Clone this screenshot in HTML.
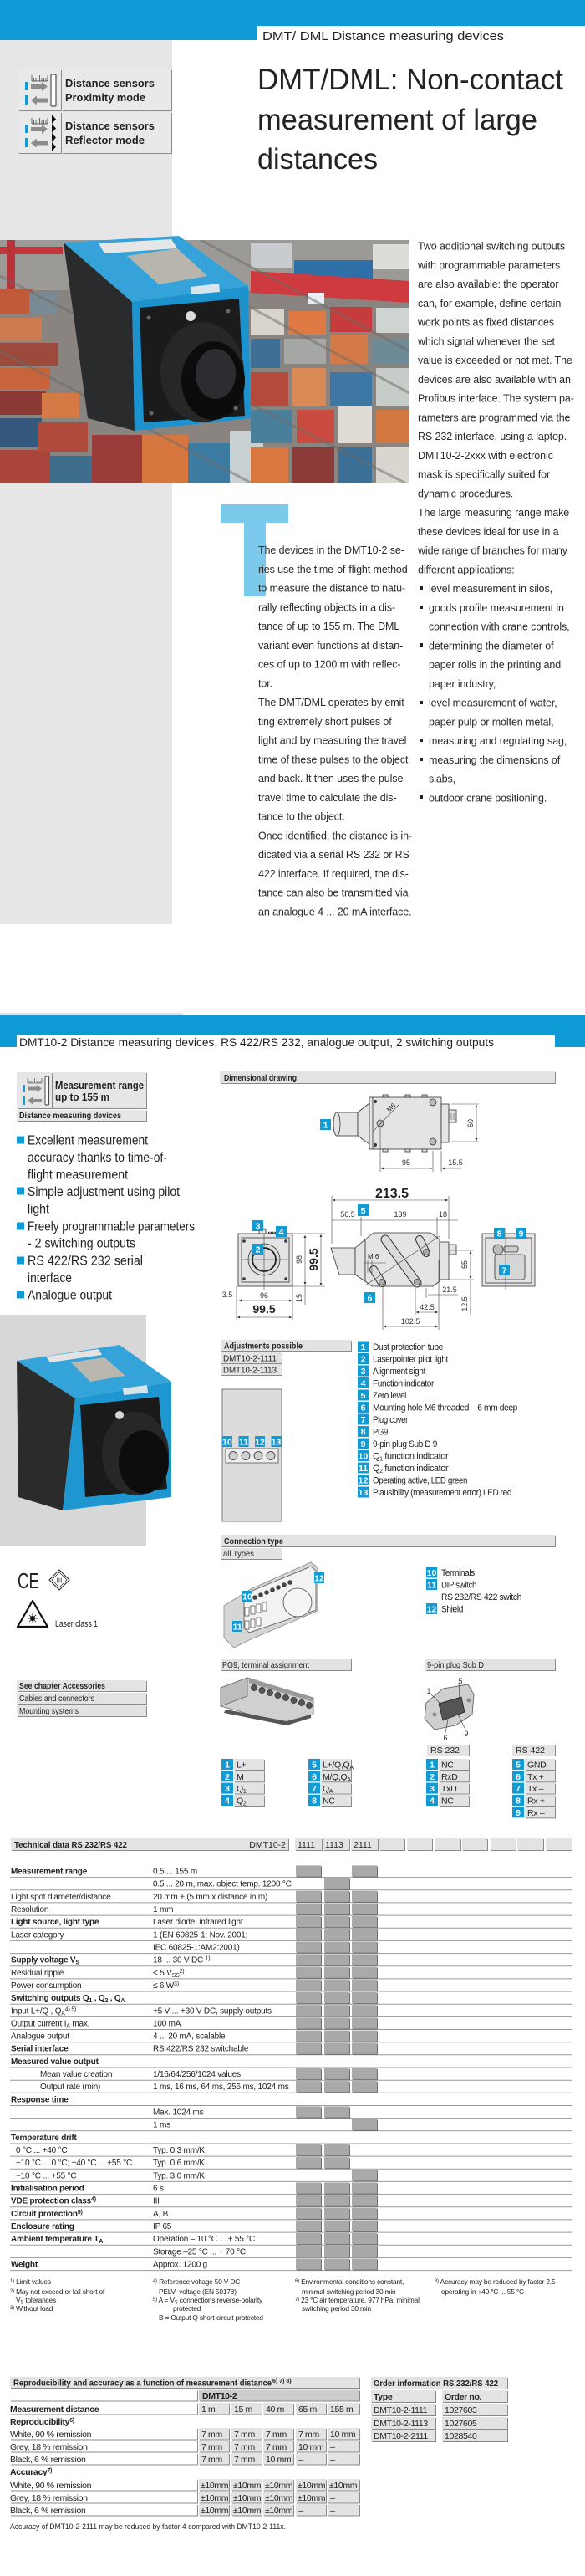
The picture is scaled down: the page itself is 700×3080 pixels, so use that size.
<!DOCTYPE html>
<html><head><meta charset="utf-8">
<style>
html,body{margin:0;padding:0;background:#fff;}
svg{display:block}
text{font-family:"Liberation Sans",Arial,sans-serif;fill:#222}
.b{font-weight:bold}
.bt{font-size:12.5px;letter-spacing:-0.1px;fill:#2a2a2a}
.td{font-size:10px;letter-spacing:-0.2px}
.fn{font-size:8.4px;letter-spacing:-0.2px;fill:#333}
.rp{font-size:10.5px;letter-spacing:-0.35px}
.lg{font-size:11px;letter-spacing:-0.4px}
.nb{fill:#fff;font-weight:bold;font-size:10.5px;text-anchor:middle}
.sh{filter:drop-shadow(1.5px 1.5px 0 #8a8a8a)}
.shg{filter:drop-shadow(1px 1px 0 #6e6e6e)}
.dr{fill:#e4e4e4;stroke:#333;stroke-width:0.8}
.dl{fill:none;stroke:#333;stroke-width:0.8}
.dm{fill:none;stroke:#444;stroke-width:0.6}
.dt{font-size:9px;fill:#333;text-anchor:middle}
.nbx{fill:#119bd5}
</style></head><body>
<svg width="700" height="3080" viewBox="0 0 700 3080" xmlns="http://www.w3.org/2000/svg">
<defs>
<clipPath id="p1"><rect x="0" y="287" width="490" height="290"/></clipPath>
<marker id="a" viewBox="0 0 6 6" refX="6" refY="3" markerWidth="5" markerHeight="5" orient="auto-start-reverse"><path d="M0 0L6 3L0 6Z" fill="#333"/></marker>
</defs>

<!-- ===== PAGE 1 HEADER ===== -->
<rect x="0" y="0" width="700" height="31" fill="#0d9ad5"/>
<rect x="0" y="31" width="308" height="17" fill="#0d9ad5"/>
<rect x="0" y="48" width="206" height="1057" fill="#e6e6e6"/>
<text x="314" y="48" font-size="15" textLength="289" lengthAdjust="spacingAndGlyphs">DMT/ DML Distance measuring devices</text>

<!-- icon boxes -->
<g class="sh">
<rect x="22" y="83" width="51" height="49" fill="#e9e9e9"/>
<rect x="74" y="83" width="131" height="49" fill="#e9e9e9"/>
<rect x="22" y="134" width="51" height="49" fill="#e9e9e9"/>
<rect x="74" y="134" width="131" height="49" fill="#e9e9e9"/>
</g>
<g id="ic1">
<path d="M38 97H57M38 90V97M40.5 93V97M43 93V97M45.5 93V97M47.5 90V97M50 93V97M52.5 93V97M55 93V97M57 90V97" stroke="#333" stroke-width="0.7" fill="none"/>
<rect x="30" y="98" width="3" height="10" fill="#119bd5"/><rect x="30" y="114" width="3" height="11" fill="#119bd5"/>
<path d="M37 101H50V98L57 103.5L50 109V106H37Z" fill="#8c8c8c"/>
<path d="M57 117.5H44V114.5L37 120L44 125.5V122.5H57Z" fill="#8c8c8c"/>
</g>
<rect x="61" y="89" width="6" height="38" rx="1" fill="#fff" stroke="#333" stroke-width="1"/>
<g transform="translate(0,51)">
<path d="M38 97H57M38 90V97M40.5 93V97M43 93V97M45.5 93V97M47.5 90V97M50 93V97M52.5 93V97M55 93V97M57 90V97" stroke="#333" stroke-width="0.7" fill="none"/>
<rect x="30" y="98" width="3" height="10" fill="#119bd5"/><rect x="30" y="114" width="3" height="11" fill="#119bd5"/>
<path d="M37 101H50V98L57 103.5L50 109V106H37Z" fill="#8c8c8c"/>
<path d="M57 117.5H44V114.5L37 120L44 125.5V122.5H57Z" fill="#8c8c8c"/>
</g>
<path d="M62 137L67 142.5L62 148L67 153.5L62 159L67 164.5L62 170L67 175.5L62 181Z" fill="#111"/>
<g class="b" font-size="13">
<text x="78" y="104" textLength="107" lengthAdjust="spacingAndGlyphs">Distance sensors</text>
<text x="78" y="121" textLength="96" lengthAdjust="spacingAndGlyphs">Proximity mode</text>
<text x="78" y="155" textLength="107" lengthAdjust="spacingAndGlyphs">Distance sensors</text>
<text x="78" y="172" textLength="95" lengthAdjust="spacingAndGlyphs">Reflector mode</text>
</g>

<!-- title -->
<g font-size="35" fill="#1a1a1a">
<text x="308" y="107" textLength="366" lengthAdjust="spacingAndGlyphs">DMT/DML: Non-contact</text>
<text x="308" y="155" textLength="335" lengthAdjust="spacingAndGlyphs">measurement of large</text>
<text x="308" y="202" textLength="144" lengthAdjust="spacingAndGlyphs">distances</text>
</g>

<!-- ===== PHOTO 1 ===== -->
<g clip-path="url(#p1)">
<rect x="0" y="287" width="490" height="290" fill="#8a8480"/>
<rect x="0" y="287" width="490" height="60" fill="#9c9a97"/>
<rect x="300" y="290" width="50" height="30" fill="#c9cccf"/>
<rect x="446" y="292" width="44" height="30" fill="#dcdcd8"/>
<rect x="352" y="311" width="94" height="30" fill="#2e6fa8"/>
<rect x="0" y="295" width="75" height="9" fill="#c3343b"/>
<rect x="8" y="287" width="10" height="85" fill="#b8323a"/>
<rect x="0" y="345" width="40" height="30" fill="#c05a3a"/>
<rect x="35" y="350" width="35" height="25" fill="#7a8a94"/>
<rect x="0" y="380" width="50" height="28" fill="#cf7b50"/>
<rect x="0" y="410" width="70" height="28" fill="#9b4a3c"/>
<rect x="0" y="440" width="60" height="25" fill="#c8643c"/>
<rect x="0" y="468" width="55" height="28" fill="#8c3a36"/>
<rect x="0" y="500" width="50" height="35" fill="#35597d"/>
<rect x="0" y="538" width="60" height="39" fill="#a9453a"/>
<rect x="50" y="470" width="45" height="30" fill="#d67a45"/>
<rect x="45" y="505" width="60" height="35" fill="#b04a3c"/>
<rect x="60" y="545" width="50" height="32" fill="#3f6e8c"/>
<rect x="110" y="520" width="60" height="57" fill="#9a3d3a"/>
<rect x="170" y="520" width="55" height="57" fill="#d6773f"/>
<rect x="225" y="530" width="50" height="47" fill="#3d7aa0"/>
<rect x="275" y="515" width="40" height="62" fill="#c9d0d2"/>
<path d="M300 324L490 336V362L300 350Z" fill="#cf3a3f"/>
<rect x="368" y="350" width="20" height="13" fill="#e8eef4"/>
<rect x="300" y="370" width="40" height="30" fill="#d8d4cc"/>
<rect x="345" y="372" width="45" height="28" fill="#e07a44"/>
<rect x="395" y="367" width="50" height="30" fill="#c63c3c"/>
<rect x="450" y="368" width="40" height="30" fill="#cfd3d2"/>
<rect x="300" y="405" width="35" height="35" fill="#3f6f95"/>
<rect x="340" y="405" width="50" height="30" fill="#a6a8a6"/>
<rect x="395" y="400" width="45" height="35" fill="#d47a48"/>
<rect x="445" y="405" width="45" height="30" fill="#6d8a96"/>
<rect x="300" y="445" width="45" height="40" fill="#b44a3d"/>
<rect x="350" y="440" width="40" height="45" fill="#d98a55"/>
<rect x="395" y="445" width="50" height="40" fill="#3e77a4"/>
<rect x="450" y="440" width="40" height="45" fill="#c8ccc8"/>
<rect x="300" y="490" width="50" height="40" fill="#4a7f9a"/>
<rect x="355" y="490" width="45" height="40" fill="#c94b40"/>
<rect x="405" y="485" width="40" height="45" fill="#e0dcd4"/>
<rect x="450" y="490" width="40" height="40" fill="#d2773f"/>
<rect x="300" y="535" width="45" height="42" fill="#d8773f"/>
<rect x="350" y="535" width="50" height="42" fill="#8b3b38"/>
<rect x="405" y="535" width="40" height="42" fill="#3c6f96"/>
<rect x="450" y="535" width="40" height="42" fill="#d9d6cf"/>
<path d="M0 330L490 580M0 420L300 577M150 287L490 470M240 287L490 420" stroke="#6f6a66" stroke-width="3" opacity="0.5"/>
</g>
<!-- device 1 -->
<path d="M76 290L158 361L161 515L105 500Z" fill="#2a2b2d"/>
<path d="M76 290L214 282L297 342L158 361Z" fill="#35a3da"/>
<path d="M158 361L297 342L300 500L161 515Z" fill="#1c93cf"/>
<path d="M118 291L205 286L212 297L125 303Z" fill="#e6e6e6"/>
<path d="M152 306L212 297L248 330L190 340Z" fill="#b7b5ac"/>
<path d="M228 343L262 339L263 349L229 352Z" fill="#d8e4ec"/>
<path d="M167 368L286 357L293 497L172 505Z" fill="#1b1b1b"/>
<ellipse cx="242" cy="445" rx="50" ry="60" fill="#272727"/>
<ellipse cx="255" cy="455" rx="38" ry="47" fill="#0c0c0c"/>
<ellipse cx="258" cy="447" rx="24" ry="30" fill="#2b2d31"/>
<circle cx="228" cy="378" r="6" fill="#dcdcdc"/>
<circle cx="178" cy="380" r="2.5" fill="#666"/><circle cx="273" cy="372" r="2.5" fill="#666"/>
<circle cx="181" cy="494" r="2.5" fill="#666"/><circle cx="282" cy="488" r="2.5" fill="#666"/>

<!-- drop cap T -->
<rect x="264" y="603" width="81" height="22" fill="#7ccaeb"/>
<rect x="292" y="625" width="26" height="88" fill="#7ccaeb"/>

<!-- body text left column -->
<text class="bt">
<tspan x="309" y="662.2">The devices in the DMT10-2 se-</tspan>
<tspan x="309" y="685">ries use the time-of-flight method</tspan>
<tspan x="309" y="707.7">to measure the distance to natu-</tspan>
<tspan x="309" y="730.5">rally reflecting objects in a dis-</tspan>
<tspan x="309" y="753.2">tance of up to 155 m. The DML</tspan>
<tspan x="309" y="776">variant even functions at distan-</tspan>
<tspan x="309" y="798.7">ces of up to 1200 m with reflec-</tspan>
<tspan x="309" y="821.5">tor.</tspan>
<tspan x="309" y="844.2">The DMT/DML operates by emit-</tspan>
<tspan x="309" y="867">ting extremely short pulses of</tspan>
<tspan x="309" y="889.7">light and by measuring the travel</tspan>
<tspan x="309" y="912.5">time of these pulses to the object</tspan>
<tspan x="309" y="935.2">and back. It then uses the pulse</tspan>
<tspan x="309" y="958">travel time to calculate the dis-</tspan>
<tspan x="309" y="980.7">tance to the object.</tspan>
<tspan x="309" y="1003.5">Once identified, the distance is in-</tspan>
<tspan x="309" y="1026.2">dicated via a serial RS 232 or RS</tspan>
<tspan x="309" y="1049">422 interface. If required, the dis-</tspan>
<tspan x="309" y="1071.7">tance can also be transmitted via</tspan>
<tspan x="309" y="1094.5">an analogue 4 ... 20 mA interface.</tspan>
</text>
<!-- right column -->
<text class="bt">
<tspan x="500" y="298.5">Two additional switching outputs</tspan>
<tspan x="500" y="321.3">with programmable parameters</tspan>
<tspan x="500" y="344">are also available: the operator</tspan>
<tspan x="500" y="366.8">can, for example, define certain</tspan>
<tspan x="500" y="389.5">work points as fixed distances</tspan>
<tspan x="500" y="412.3">which signal whenever the set</tspan>
<tspan x="500" y="435">value is exceeded or not met. The</tspan>
<tspan x="500" y="457.8">devices are also available with an</tspan>
<tspan x="500" y="480.5">Profibus interface. The system pa-</tspan>
<tspan x="500" y="503.3">rameters are programmed via the</tspan>
<tspan x="500" y="526">RS 232 interface, using a laptop.</tspan>
<tspan x="500" y="548.8">DMT10-2-2xxx with electronic</tspan>
<tspan x="500" y="571.5">mask is specifically suited for</tspan>
<tspan x="500" y="594.3">dynamic procedures.</tspan>
<tspan x="500" y="617">The large measuring range make</tspan>
<tspan x="500" y="639.8">these devices ideal for use in a</tspan>
<tspan x="500" y="662.5">wide range of branches for many</tspan>
<tspan x="500" y="685.3">different applications:</tspan>
<tspan x="513" y="708">level measurement in silos,</tspan>
<tspan x="513" y="730.8">goods profile measurement in</tspan>
<tspan x="513" y="753.5">connection with crane controls,</tspan>
<tspan x="513" y="776.3">determining the diameter of</tspan>
<tspan x="513" y="799">paper rolls in the printing and</tspan>
<tspan x="513" y="821.8">paper industry,</tspan>
<tspan x="513" y="844.5">level measurement of water,</tspan>
<tspan x="513" y="867.3">paper pulp or molten metal,</tspan>
<tspan x="513" y="890">measuring and regulating sag,</tspan>
<tspan x="513" y="912.8">measuring the dimensions of</tspan>
<tspan x="513" y="935.5">slabs,</tspan>
<tspan x="513" y="958.3">outdoor crane positioning.</tspan>
</text>
<g fill="#222">
<rect x="502" y="701" width="4" height="4"/><rect x="502" y="724" width="4" height="4"/>
<rect x="502" y="769" width="4" height="4"/><rect x="502" y="838" width="4" height="4"/>
<rect x="502" y="883" width="4" height="4"/><rect x="502" y="906" width="4" height="4"/>
<rect x="502" y="951" width="4" height="4"/>
</g>

<!-- ===== PAGE 2 ===== -->
<rect x="0" y="1211" width="219" height="2" fill="#e2e2e2"/>
<rect x="0" y="1214" width="700" height="38" fill="#0d9ad5"/>
<rect x="20" y="1238" width="644" height="20" fill="#fff"/>
<text x="23" y="1251" font-size="13.5" textLength="568" lengthAdjust="spacingAndGlyphs">DMT10-2 Distance measuring devices, RS 422/RS 232, analogue output, 2 switching outputs</text>

<!-- product box -->
<g class="sh">
<rect x="20" y="1282" width="42" height="43" fill="#e6e6e6"/>
<rect x="63" y="1282" width="112" height="43" fill="#e6e6e6"/>
<rect x="20" y="1327" width="155" height="13" fill="#e6e6e6"/>
</g>
<path d="M33 1295H50M33 1289V1295M35 1292V1295M37 1292V1295M39 1292V1295M41.5 1289V1295M44 1292V1295M46 1292V1295M48 1292V1295M50 1289V1295" stroke="#333" stroke-width="0.6" fill="none"/>
<rect x="27" y="1297" width="3" height="9" fill="#119bd5"/><rect x="27" y="1311" width="3" height="10" fill="#119bd5"/>
<path d="M33 1299.5H44V1297L50 1301.5L44 1306V1303.5H33Z" fill="#8c8c8c"/>
<path d="M50 1314H39V1311.5L33 1316L39 1320.5V1318H50Z" fill="#8c8c8c"/>
<rect x="54" y="1287" width="4.5" height="34" rx="1" fill="#fff" stroke="#333" stroke-width="0.9"/>
<g class="b">
<text x="66" y="1302" font-size="12.5" textLength="106" lengthAdjust="spacingAndGlyphs">Measurement range</text>
<text x="66" y="1316" font-size="12.5" textLength="65" lengthAdjust="spacingAndGlyphs">up to 155 m</text>
<text x="23" y="1337" font-size="10" textLength="122" lengthAdjust="spacingAndGlyphs">Distance measuring devices</text>
</g>

<!-- bullets -->
<g fill="#119bd5">
<rect x="20" y="1358.5" width="9" height="9"/><rect x="20" y="1419.5" width="9" height="9"/>
<rect x="20" y="1461.5" width="9" height="9"/><rect x="20" y="1502.5" width="9" height="9"/>
<rect x="20" y="1543.5" width="9" height="9"/>
</g>
<g font-size="15.5" fill="#1e1e1e">
<text x="33" y="1368.5" textLength="144" lengthAdjust="spacingAndGlyphs">Excellent measurement</text>
<text x="33" y="1389" textLength="167" lengthAdjust="spacingAndGlyphs">accuracy thanks to time-of-</text>
<text x="33" y="1409.5" textLength="120" lengthAdjust="spacingAndGlyphs">flight measurement</text>
<text x="33" y="1430" textLength="182" lengthAdjust="spacingAndGlyphs">Simple adjustment using pilot</text>
<text x="33" y="1450.5" textLength="26" lengthAdjust="spacingAndGlyphs">light</text>
<text x="33" y="1471.5" textLength="200" lengthAdjust="spacingAndGlyphs">Freely programmable parameters</text>
<text x="33" y="1491.5" textLength="129" lengthAdjust="spacingAndGlyphs">- 2 switching outputs</text>
<text x="33" y="1512.5" textLength="138" lengthAdjust="spacingAndGlyphs">RS 422/RS 232 serial</text>
<text x="33" y="1533" textLength="53" lengthAdjust="spacingAndGlyphs">interface</text>
<text x="33" y="1553.5" textLength="101" lengthAdjust="spacingAndGlyphs">Analogue output</text>
</g>

<!-- product photo 2 -->
<rect x="0" y="1572" width="175" height="276" fill="#d7d7d7"/>
<path d="M20 1627L90 1672L75 1806L22 1790Z" fill="#2b2b2b"/>
<path d="M20 1627L143 1608L205 1652L90 1672Z" fill="#33a3da"/>
<path d="M90 1672L205 1652L205 1790L75 1806Z" fill="#1e97d1"/>
<path d="M55 1622L118 1613L122 1620L60 1629Z" fill="#e4e4e4"/>
<path d="M85 1629L125 1623L150 1645L108 1652Z" fill="#b9b7ae"/>
<path d="M147 1660L176 1656L177 1665L148 1668Z" fill="#d8e4ec"/>
<path d="M96 1680L190 1670L200 1780L102 1790Z" fill="#1a1a1a"/>
<ellipse cx="162" cy="1738" rx="40" ry="50" fill="#272727"/>
<ellipse cx="172" cy="1748" rx="30" ry="38" fill="#0d0d0d"/>
<circle cx="143" cy="1692" r="5" fill="#d5d5d5"/>

<!-- CE / class III / laser -->
<text x="21" y="1899" font-size="26" textLength="26" lengthAdjust="spacingAndGlyphs" fill="#111">CE</text>
<path d="M71 1877L83 1889L71 1901L59 1889Z" fill="none" stroke="#222" stroke-width="1"/>
<path d="M71 1880L80 1889L71 1898L62 1889Z" fill="none" stroke="#222" stroke-width="0.7"/>
<text x="71" y="1892.5" font-size="8" text-anchor="middle" fill="#222">III</text>
<path d="M39 1914L57 1945H21Z" fill="#fff" stroke="#111" stroke-width="2.2" stroke-linejoin="round"/>
<circle cx="39" cy="1935" r="3" fill="#111"/>
<path d="M33 1935H45M39 1929V1941M35 1931L43 1939M43 1931L35 1939" stroke="#111" stroke-width="0.8"/>
<text x="66" y="1945" font-size="11" textLength="51" lengthAdjust="spacingAndGlyphs" fill="#333">Laser class 1</text>

<!-- accessories box -->
<g class="sh">
<rect x="20" y="2009" width="155" height="13" fill="#e3e3e3"/>
<rect x="20" y="2024" width="155" height="13" fill="#e3e3e3"/>
<rect x="20" y="2039" width="155" height="13" fill="#e3e3e3"/>
</g>
<text x="23" y="2019" font-size="10.5" class="b" textLength="103" lengthAdjust="spacingAndGlyphs">See chapter Accessories</text>
<text x="23" y="2034" font-size="10.5" textLength="90" lengthAdjust="spacingAndGlyphs">Cables and connectors</text>
<text x="23" y="2049" font-size="10.5" textLength="71" lengthAdjust="spacingAndGlyphs">Mounting systems</text>

<!-- Dimensional drawing bar -->
<g class="sh"><rect x="263" y="1281" width="401" height="14" fill="#e3e3e3"/></g>
<text x="268" y="1292" font-size="10" class="b" textLength="87" lengthAdjust="spacingAndGlyphs">Dimensional drawing</text>

<!-- top view -->
<rect x="403" y="1330" width="25" height="28" class="dr" fill="#efefef"/>
<ellipse cx="403" cy="1344" rx="4" ry="14" class="dr" fill="#f4f4f4"/>
<path d="M428 1330L442 1319V1368L428 1358Z" class="dr"/>
<rect x="442" y="1312" width="86" height="62" class="dr"/>
<path d="M446 1312V1374" class="dl"/>
<rect x="458" y="1309" width="6" height="3" class="dr"/><rect x="485" y="1309" width="6" height="3" class="dr"/><rect x="505" y="1309" width="6" height="3" class="dr"/>
<rect x="458" y="1374" width="6" height="3" class="dr"/><rect x="485" y="1374" width="6" height="3" class="dr"/><rect x="505" y="1374" width="6" height="3" class="dr"/>
<circle cx="449" cy="1317" r="2" fill="#333"/><circle cx="449" cy="1369" r="2" fill="#333"/>
<circle cx="518" cy="1318" r="4" fill="#bbb" stroke="#333" stroke-width="0.8"/><circle cx="518" cy="1365" r="4" fill="#bbb" stroke="#333" stroke-width="0.8"/>
<circle cx="455" cy="1343" r="4" fill="#bbb" stroke="#333" stroke-width="0.8"/>
<path d="M446 1353L478 1320" class="dm"/>
<text x="466" y="1330" font-size="8" fill="#333" transform="rotate(-45 466 1330)">M6</text>
<rect x="528" y="1320" width="9" height="46" class="dr"/>
<rect x="537" y="1327" width="9" height="15" class="dr"/>
<path d="M540 1331V1339M543 1331V1339" class="dm"/>
<path d="M540 1320H573M540 1365H573" class="dm"/>
<path d="M570 1321V1364" class="dm" marker-start="url(#a)" marker-end="url(#a)"/>
<text x="566" y="1343" class="dt" transform="rotate(-90 566 1343)">60</text>
<path d="M455 1347V1401M518 1376V1401M528 1376V1401" class="dm"/>
<path d="M456 1397H517" class="dm" marker-start="url(#a)" marker-end="url(#a)"/>
<path d="M552 1397H529" class="dm" marker-end="url(#a)"/>
<text x="486" y="1393" class="dt">95</text>
<text x="545" y="1393" class="dt">15.5</text>
<rect x="383" y="1338" width="13" height="13" class="nbx"/><text x="389.5" y="1348.5" class="nb">1</text>

<!-- side view -->
<text x="469" y="1432" font-size="16" class="b" text-anchor="middle" fill="#222">213.5</text>
<path d="M398 1435H536" class="dm" marker-start="url(#a)" marker-end="url(#a)"/>
<path d="M397 1459H548" class="dm"/>
<path d="M397 1430V1487M432 1455V1478M523 1455V1506M537 1430V1482" class="dm"/>
<text x="416" y="1455" class="dt">56.5</text>
<text x="479" y="1455" class="dt">139</text>
<text x="530" y="1455" class="dt">18</text>
<rect x="428" y="1440" width="13" height="14" class="nbx"/><text x="434.5" y="1451" class="nb">5</text>
<path d="M396 1492H425V1524H406Z" class="dr"/>
<path d="M425 1492L437 1482V1532L425 1524Z" class="dr"/>
<path d="M437 1482L447 1474H515L526 1482V1532L518 1538H445L437 1532Z" class="dr"/>
<path d="M461 1482L499 1534" stroke="#333" stroke-width="11" stroke-linecap="round"/>
<path d="M461 1482L499 1534" stroke="#dadada" stroke-width="9" stroke-linecap="round"/>
<path d="M502 1482L510 1498" stroke="#333" stroke-width="10" stroke-linecap="round"/>
<path d="M502 1482L510 1498" stroke="#dadada" stroke-width="8" stroke-linecap="round"/>
<path d="M447 1518L457 1534" stroke="#333" stroke-width="10" stroke-linecap="round"/>
<path d="M447 1518L457 1534" stroke="#dadada" stroke-width="8" stroke-linecap="round"/>
<path d="M437 1537L526 1478" class="dm"/>
<circle cx="510" cy="1497" r="3.5" fill="#aaa" stroke="#333" stroke-width="0.7"/>
<circle cx="499" cy="1533" r="3.5" fill="#aaa" stroke="#333" stroke-width="0.7"/>
<circle cx="457" cy="1533" r="3.5" fill="#aaa" stroke="#333" stroke-width="0.7"/>
<rect x="526" y="1485" width="11" height="45" class="dr"/>
<rect x="537" y="1488" width="9" height="12" class="dr"/>
<text x="440" y="1505" font-size="8" fill="#333">M 6</text>
<path d="M440 1507V1522M445 1507V1522M436 1510H462" class="dm"/>
<path d="M537 1495H567M526 1530H567" class="dm"/>
<path d="M563 1496V1529" class="dm" marker-start="url(#a)" marker-end="url(#a)"/>
<path d="M563 1531V1572" class="dm"/>
<text x="559" y="1512" class="dt" transform="rotate(-90 559 1512)">55</text>
<text x="559" y="1559" class="dt" transform="rotate(-90 559 1559)">12.5</text>
<path d="M458 1535V1590M497 1540V1572M510 1540V1552M525 1506V1590" class="dm"/>
<path d="M512 1548H548" class="dm"/>
<path d="M498 1569H524" class="dm" marker-start="url(#a)" marker-end="url(#a)"/>
<path d="M459 1586H524" class="dm" marker-start="url(#a)" marker-end="url(#a)"/>
<text x="538" y="1545" class="dt">21.5</text>
<text x="511" y="1566" class="dt">42.5</text>
<text x="491" y="1583" class="dt">102.5</text>
<rect x="436" y="1545" width="13" height="13" class="nbx"/><text x="442.5" y="1555.5" class="nb">6</text>

<!-- front view -->
<rect x="285" y="1475" width="65" height="63" class="dr"/>
<rect x="289" y="1480" width="57" height="53" class="dl"/>
<circle cx="316" cy="1506" r="19" fill="#dcdcdc" stroke="#333" stroke-width="0.8"/>
<circle cx="316" cy="1506" r="14" fill="none" stroke="#222" stroke-width="1.8"/>
<path d="M316 1468V1542M289 1506H346" class="dm"/>
<circle cx="292" cy="1484" r="1.8" fill="#333"/><circle cx="342" cy="1484" r="1.8" fill="#333"/>
<circle cx="292" cy="1529" r="1.8" fill="#333"/><circle cx="342" cy="1529" r="1.8" fill="#333"/>
<rect x="310" y="1470" width="8" height="5" class="dr"/>
<path d="M321 1474h14" stroke="#333" stroke-width="2.5" stroke-dasharray="1.5 1"/>
<rect x="302" y="1459" width="13" height="13" class="nbx"/><text x="308.5" y="1469.5" class="nb">3</text>
<rect x="330" y="1466" width="13" height="13" class="nbx"/><text x="336.5" y="1476.5" class="nb">4</text>
<rect x="302" y="1487" width="13" height="13" class="nbx"/><text x="308.5" y="1497.5" class="nb">2</text>
<path d="M350 1475H389M350 1538H389" class="dm"/>
<path d="M365 1477V1536" class="dm" marker-start="url(#a)" marker-end="url(#a)"/>
<path d="M384 1476V1537" class="dm" marker-start="url(#a)" marker-end="url(#a)"/>
<path d="M365 1538V1560" class="dm"/>
<text x="361" y="1506" class="dt" transform="rotate(-90 361 1506)">98</text>
<text x="380" y="1506" font-size="14" class="b" text-anchor="middle" fill="#222" transform="rotate(-90 380 1506)">99.5</text>
<text x="361" y="1552" class="dt" transform="rotate(-90 361 1552)">15</text>
<path d="M283 1538V1578M350 1538V1578" class="dm"/>
<path d="M286 1555H349" class="dm" marker-start="url(#a)" marker-end="url(#a)"/>
<path d="M284 1575H349" class="dm" marker-start="url(#a)" marker-end="url(#a)"/>
<text x="316" y="1552" class="dt">96</text>
<text x="272" y="1551" class="dt">3.5</text>
<text x="316" y="1570" font-size="14" class="b" text-anchor="middle" fill="#222">99.5</text>

<!-- rear view -->
<rect x="577" y="1475" width="63" height="63" class="dr"/>
<rect x="581" y="1480" width="55" height="54" class="dl"/>
<circle cx="596" cy="1494" r="6" fill="#bbb" stroke="#333" stroke-width="0.8"/>
<rect x="603" y="1490" width="17" height="7" rx="2" fill="#ccc" stroke="#333" stroke-width="0.8"/>
<rect x="592" y="1500" width="36" height="30" rx="3" fill="#d6d6d6" stroke="#333" stroke-width="0.8"/>
<path d="M605 1468V1542" class="dm"/>
<rect x="591" y="1468" width="13" height="13" class="nbx"/><text x="597.5" y="1478.5" class="nb">8</text>
<rect x="617" y="1468" width="13" height="13" class="nbx"/><text x="623.5" y="1478.5" class="nb">9</text>
<rect x="597" y="1512" width="13" height="13" class="nbx"/><text x="603.5" y="1522.5" class="nb">7</text>

<!-- adjustments -->
<g class="sh">
<rect x="264" y="1602" width="156" height="13" fill="#e3e3e3"/>
<rect x="264" y="1617" width="73" height="13" fill="#e3e3e3"/>
<rect x="264" y="1631" width="73" height="13" fill="#e3e3e3"/>
</g>
<text x="268" y="1612.5" font-size="10.5" class="b" textLength="94" lengthAdjust="spacingAndGlyphs">Adjustments possible</text>
<text x="267" y="1627.5" font-size="10.5" textLength="64" lengthAdjust="spacingAndGlyphs">DMT10-2-1111</text>
<text x="267" y="1641.5" font-size="10.5" textLength="64" lengthAdjust="spacingAndGlyphs">DMT10-2-1113</text>
<rect x="266" y="1661" width="71" height="158" fill="#dcdcdc" stroke="#777" stroke-width="1"/>
<rect x="266" y="1717" width="12" height="13" class="nbx"/><text x="272" y="1727.5" class="nb" font-size="9.5">10</text>
<rect x="285.5" y="1717" width="12" height="13" class="nbx"/><text x="291.5" y="1727.5" class="nb" font-size="9.5">11</text>
<rect x="305" y="1717" width="12" height="13" class="nbx"/><text x="311" y="1727.5" class="nb" font-size="9.5">12</text>
<rect x="324.5" y="1717" width="12" height="13" class="nbx"/><text x="330.5" y="1727.5" class="nb" font-size="9.5">13</text>
<rect x="270" y="1732" width="63" height="17" fill="#eee" stroke="#555" stroke-width="0.8"/>
<circle cx="279" cy="1740.5" r="5" fill="#cfcfcf" stroke="#333" stroke-width="0.8"/>
<circle cx="294" cy="1740.5" r="5" fill="#cfcfcf" stroke="#333" stroke-width="0.8"/>
<circle cx="309" cy="1740.5" r="5" fill="#cfcfcf" stroke="#333" stroke-width="0.8"/>
<circle cx="324" cy="1740.5" r="5" fill="#cfcfcf" stroke="#333" stroke-width="0.8"/>

<!-- legend 1-13 -->
<g>
<rect x="428" y="1603.5" width="13" height="13" class="nbx"/><text x="434.5" y="1614" class="nb">1</text>
<rect x="428" y="1618" width="13" height="13" class="nbx"/><text x="434.5" y="1628.5" class="nb">2</text>
<rect x="428" y="1632.5" width="13" height="13" class="nbx"/><text x="434.5" y="1643" class="nb">3</text>
<rect x="428" y="1647" width="13" height="13" class="nbx"/><text x="434.5" y="1657.5" class="nb">4</text>
<rect x="428" y="1661.5" width="13" height="13" class="nbx"/><text x="434.5" y="1672" class="nb">5</text>
<rect x="428" y="1676" width="13" height="13" class="nbx"/><text x="434.5" y="1686.5" class="nb">6</text>
<rect x="428" y="1690.5" width="13" height="13" class="nbx"/><text x="434.5" y="1701" class="nb">7</text>
<rect x="428" y="1705" width="13" height="13" class="nbx"/><text x="434.5" y="1715.5" class="nb">8</text>
<rect x="428" y="1719.5" width="13" height="13" class="nbx"/><text x="434.5" y="1730" class="nb">9</text>
<rect x="428" y="1734" width="13" height="13" class="nbx"/><text x="434.5" y="1744.5" class="nb" font-size="9.5">10</text>
<rect x="428" y="1748.5" width="13" height="13" class="nbx"/><text x="434.5" y="1759" class="nb" font-size="9.5">11</text>
<rect x="428" y="1763" width="13" height="13" class="nbx"/><text x="434.5" y="1773.5" class="nb" font-size="9.5">12</text>
<rect x="428" y="1777.5" width="13" height="13" class="nbx"/><text x="434.5" y="1788" class="nb" font-size="9.5">13</text>
</g>
<g class="lg">
<text x="446" y="1614" textLength="84" lengthAdjust="spacingAndGlyphs">Dust protection tube</text>
<text x="446" y="1628.5" textLength="90" lengthAdjust="spacingAndGlyphs">Laserpointer pilot light</text>
<text x="446" y="1643" textLength="63" lengthAdjust="spacingAndGlyphs">Alignment sight</text>
<text x="446" y="1657.5" textLength="73" lengthAdjust="spacingAndGlyphs">Function indicator</text>
<text x="446" y="1672" textLength="40" lengthAdjust="spacingAndGlyphs">Zero level</text>
<text x="446" y="1686.5" textLength="173" lengthAdjust="spacingAndGlyphs">Mounting hole M6 threaded – 6 mm deep</text>
<text x="446" y="1701" textLength="42" lengthAdjust="spacingAndGlyphs">Plug cover</text>
<text x="446" y="1715.5" textLength="18" lengthAdjust="spacingAndGlyphs">PG9</text>
<text x="446" y="1730" textLength="77" lengthAdjust="spacingAndGlyphs">9-pin plug Sub D 9</text>
<text x="446" y="1744.5">Q<tspan font-size="7" dy="2">1</tspan><tspan dy="-2"> function indicator</tspan></text>
<text x="446" y="1759">Q<tspan font-size="7" dy="2">2</tspan><tspan dy="-2"> function indicator</tspan></text>
<text x="446" y="1773.5" textLength="113" lengthAdjust="spacingAndGlyphs">Operating active, LED green</text>
<text x="446" y="1788" textLength="166" lengthAdjust="spacingAndGlyphs">Plausibility (measurement error) LED red</text>
</g>

<!-- connection type -->
<g class="sh">
<rect x="264" y="1835" width="400" height="14" fill="#e3e3e3"/>
<rect x="264" y="1851" width="73" height="13" fill="#e3e3e3"/>
</g>
<text x="268" y="1846" font-size="10.5" class="b" textLength="71" lengthAdjust="spacingAndGlyphs">Connection type</text>
<text x="267" y="1861" font-size="10.5" textLength="37" lengthAdjust="spacingAndGlyphs">all Types</text>
<path d="M268 1920L300 1900L372 1868L380 1874V1926L300 1960L280 1970L268 1958Z" fill="#d6d6d6" stroke="#888" stroke-width="0.8"/>
<path d="M292 1906L372 1873L378 1878V1925L298 1952L292 1946Z" fill="#f2f2f2" stroke="#555" stroke-width="0.8"/>
<g fill="#444">
<circle cx="298" cy="1913" r="2.8"/><circle cx="305" cy="1910" r="2.8"/><circle cx="312" cy="1907" r="2.8"/><circle cx="319" cy="1904" r="2.8"/>
<circle cx="326" cy="1901" r="2.8"/><circle cx="333" cy="1898" r="2.8"/><circle cx="340" cy="1895" r="2.8"/><circle cx="347" cy="1892" r="2.8"/>
</g>
<circle cx="356" cy="1916" r="17" fill="#f5f5f5" stroke="#444" stroke-width="0.8"/>
<g fill="#fff" stroke="#444" stroke-width="0.7">
<rect x="293" y="1922" width="5" height="10"/><rect x="300" y="1920" width="5" height="10"/><rect x="307" y="1918" width="5" height="10"/><rect x="314" y="1916" width="5" height="10"/>
<rect x="293" y="1938" width="5" height="10"/><rect x="300" y="1936" width="5" height="10"/><rect x="307" y="1934" width="5" height="10"/>
</g>
<rect x="290" y="1902" width="12" height="13" class="nbx"/><text x="296" y="1912.5" class="nb" font-size="9.5">10</text>
<rect x="376" y="1880" width="12" height="13" class="nbx"/><text x="382" y="1890.5" class="nb" font-size="9.5">12</text>
<rect x="278" y="1938" width="12" height="13" class="nbx"/><text x="284" y="1948.5" class="nb" font-size="9.5">11</text>
<rect x="510" y="1873.5" width="13" height="13" class="nbx"/><text x="516.5" y="1884" class="nb" font-size="9.5">10</text>
<rect x="510" y="1888" width="13" height="13" class="nbx"/><text x="516.5" y="1898.5" class="nb" font-size="9.5">11</text>
<rect x="510" y="1917" width="13" height="13" class="nbx"/><text x="516.5" y="1927.5" class="nb" font-size="9.5">12</text>
<g class="lg">
<text x="528" y="1884" textLength="40" lengthAdjust="spacingAndGlyphs">Terminals</text>
<text x="528" y="1898.5" textLength="42" lengthAdjust="spacingAndGlyphs">DIP switch</text>
<text x="528" y="1913" textLength="96" lengthAdjust="spacingAndGlyphs">RS 232/RS 422 switch</text>
<text x="528" y="1927.5" textLength="26" lengthAdjust="spacingAndGlyphs">Shield</text>
</g>

<!-- PG9 / SubD bars -->
<g class="sh">
<rect x="264" y="1983" width="156" height="14" fill="#e3e3e3"/>
<rect x="509" y="1983" width="155" height="14" fill="#e3e3e3"/>
</g>
<text x="266" y="1994" font-size="10.5" textLength="104" lengthAdjust="spacingAndGlyphs">PG9, terminal assignment</text>
<text x="511" y="1994" font-size="10.5" textLength="68" lengthAdjust="spacingAndGlyphs">9-pin plug Sub D</text>
<!-- terminal block -->
<path d="M264 2018L296 2006L375 2030V2050L343 2062L264 2040Z" fill="#d0d0d0" stroke="#666" stroke-width="0.8"/>
<path d="M264 2018L296 2006V2028L264 2040Z" fill="#bdbdbd" stroke="#666" stroke-width="0.8"/>
<path d="M298 2006L375 2030V2035L298 2012Z" fill="#9a9a9a"/>
<g fill="#555" stroke="#222" stroke-width="0.6">
<circle cx="304" cy="2018" r="3.6"/><circle cx="313.5" cy="2021" r="3.6"/><circle cx="323" cy="2024" r="3.6"/><circle cx="332.5" cy="2027" r="3.6"/>
<circle cx="342" cy="2030" r="3.6"/><circle cx="351.5" cy="2033" r="3.6"/><circle cx="361" cy="2036" r="3.6"/><circle cx="370" cy="2039" r="3.6"/>
</g>
<path d="M270 2044L343 2058L372 2050V2054L343 2063L268 2048Z" fill="#555"/>
<!-- sub D -->
<path d="M510 2036L530 2019L560 2014L567 2026L565 2050L545 2063L520 2068L508 2055Z" fill="#cfcfcf" stroke="#555" stroke-width="0.8"/>
<path d="M525 2037L552 2029L556 2047L530 2057Z" fill="#555" stroke="#222" stroke-width="0.8"/>
<circle cx="520" cy="2050" r="2.5" fill="#888"/><circle cx="561" cy="2033" r="2.5" fill="#888"/>
<path d="M514 2024L528 2038M549 2012L550 2031M533 2072L536 2056M557 2068L548 2050" stroke="#333" stroke-width="0.6"/>
<text x="551" y="2013" class="dt">5</text>
<text x="513" y="2025" class="dt">1</text>
<text x="533" y="2081" class="dt">6</text>
<text x="558" y="2076" class="dt">9</text>

<!-- RS headers & pin tables -->
<g class="sh">
<rect x="511" y="2086" width="50" height="13" fill="#e3e3e3"/>
<rect x="613" y="2086" width="51" height="13" fill="#e3e3e3"/>
<rect x="280" y="2103" width="36" height="13" fill="#e3e3e3"/><rect x="280" y="2117.3" width="36" height="13" fill="#e3e3e3"/>
<rect x="280" y="2131.6" width="36" height="13" fill="#e3e3e3"/><rect x="280" y="2146" width="36" height="13" fill="#e3e3e3"/>
<rect x="384" y="2103" width="36" height="13" fill="#e3e3e3"/><rect x="384" y="2117.3" width="36" height="13" fill="#e3e3e3"/>
<rect x="384" y="2131.6" width="36" height="13" fill="#e3e3e3"/><rect x="384" y="2146" width="36" height="13" fill="#e3e3e3"/>
<rect x="525" y="2103" width="36" height="13" fill="#e3e3e3"/><rect x="525" y="2117.3" width="36" height="13" fill="#e3e3e3"/>
<rect x="525" y="2131.6" width="36" height="13" fill="#e3e3e3"/><rect x="525" y="2146" width="36" height="13" fill="#e3e3e3"/>
<rect x="628" y="2103" width="36" height="13" fill="#e3e3e3"/><rect x="628" y="2117.3" width="36" height="13" fill="#e3e3e3"/>
<rect x="628" y="2131.6" width="36" height="13" fill="#e3e3e3"/><rect x="628" y="2146" width="36" height="13" fill="#e3e3e3"/>
<rect x="628" y="2160.3" width="36" height="13" fill="#e3e3e3"/>
</g>
<text x="515" y="2096" font-size="10.5">RS 232</text>
<text x="617" y="2096" font-size="10.5">RS 422</text>
<g>
<rect x="265" y="2103" width="14" height="13" class="nbx"/><text x="272" y="2113.5" class="nb">1</text>
<rect x="265" y="2117.3" width="14" height="13" class="nbx"/><text x="272" y="2127.8" class="nb">2</text>
<rect x="265" y="2131.6" width="14" height="13" class="nbx"/><text x="272" y="2142.1" class="nb">3</text>
<rect x="265" y="2146" width="14" height="13" class="nbx"/><text x="272" y="2156.5" class="nb">4</text>
<rect x="369" y="2103" width="14" height="13" class="nbx"/><text x="376" y="2113.5" class="nb">5</text>
<rect x="369" y="2117.3" width="14" height="13" class="nbx"/><text x="376" y="2127.8" class="nb">6</text>
<rect x="369" y="2131.6" width="14" height="13" class="nbx"/><text x="376" y="2142.1" class="nb">7</text>
<rect x="369" y="2146" width="14" height="13" class="nbx"/><text x="376" y="2156.5" class="nb">8</text>
<rect x="510" y="2103" width="14" height="13" class="nbx"/><text x="517" y="2113.5" class="nb">1</text>
<rect x="510" y="2117.3" width="14" height="13" class="nbx"/><text x="517" y="2127.8" class="nb">2</text>
<rect x="510" y="2131.6" width="14" height="13" class="nbx"/><text x="517" y="2142.1" class="nb">3</text>
<rect x="510" y="2146" width="14" height="13" class="nbx"/><text x="517" y="2156.5" class="nb">4</text>
<rect x="613" y="2103" width="14" height="13" class="nbx"/><text x="620" y="2113.5" class="nb">5</text>
<rect x="613" y="2117.3" width="14" height="13" class="nbx"/><text x="620" y="2127.8" class="nb">6</text>
<rect x="613" y="2131.6" width="14" height="13" class="nbx"/><text x="620" y="2142.1" class="nb">7</text>
<rect x="613" y="2146" width="14" height="13" class="nbx"/><text x="620" y="2156.5" class="nb">8</text>
<rect x="613" y="2160.3" width="14" height="13" class="nbx"/><text x="620" y="2170.8" class="nb">9</text>
</g>
<g font-size="10.5" letter-spacing="-0.3">
<text x="283" y="2113.5">L+</text><text x="283" y="2127.8">M</text>
<text x="283" y="2142.1">Q<tspan font-size="7" dy="2">1</tspan></text>
<text x="283" y="2156.5">Q<tspan font-size="7" dy="2">2</tspan></text>
<text x="386" y="2113.5">L+/Q,Q<tspan font-size="7" dy="2">A</tspan></text>
<text x="386" y="2127.8">M/Q,Q<tspan font-size="7" dy="2">A</tspan></text>
<text x="386" y="2142.1">Q<tspan font-size="7" dy="2">A</tspan></text>
<text x="386" y="2156.5">NC</text>
<text x="528" y="2113.5">NC</text><text x="528" y="2127.8">RxD</text><text x="528" y="2142.1">TxD</text><text x="528" y="2156.5">NC</text>
<text x="631" y="2113.5">GND</text><text x="631" y="2127.8">Tx +</text><text x="631" y="2142.1">Tx –</text><text x="631" y="2156.5">Rx +</text><text x="631" y="2170.8">Rx –</text>
</g>

<!-- ===== TECHNICAL DATA ===== -->
<g class="sh">
<rect x="13" y="2198" width="332" height="14" fill="#e3e3e3"/>
<rect x="353" y="2198" width="32" height="14" fill="#e3e3e3"/>
<rect x="387" y="2198" width="31" height="14" fill="#e3e3e3"/>
<rect x="420" y="2198" width="32" height="14" fill="#e3e3e3"/>
<rect x="454" y="2198" width="30" height="14" fill="#e3e3e3"/>
<rect x="487" y="2198" width="30" height="14" fill="#e3e3e3"/>
<rect x="520" y="2198" width="31" height="14" fill="#e3e3e3"/>
<rect x="553" y="2198" width="30" height="14" fill="#e3e3e3"/>
<rect x="587" y="2198" width="30" height="14" fill="#e3e3e3"/>
<rect x="619" y="2198" width="31" height="14" fill="#e3e3e3"/>
<rect x="653" y="2198" width="31" height="14" fill="#e3e3e3"/>
</g>
<text x="17" y="2209" font-size="10.5" class="b" textLength="135" lengthAdjust="spacingAndGlyphs">Technical data RS 232/RS 422</text>
<text x="342" y="2209" font-size="10.5" text-anchor="end">DMT10-2</text>
<text x="356" y="2209" font-size="10.5">1111</text>
<text x="389" y="2209" font-size="10.5">1113</text>
<text x="423" y="2209" font-size="10.5">2111</text>

<!-- row lines -->
<path stroke="#9a9a9a" stroke-width="1" fill="none" d="M12 2244.6H685M12 2259.8H685M12 2274.9H685M12 2290.1H685M12 2305.2H685M12 2320.4H685M12 2335.6H685M12 2350.7H685M12 2365.9H685M12 2381H685M12 2396.2H685M12 2411.4H685M12 2426.5H685M12 2441.7H685M12 2456.8H685M12 2472H685M12 2487.2H685M12 2502.3H685M12 2517.5H685M12 2532.6H685M12 2547.8H685M12 2563H685M12 2578.1H685M12 2593.3H685M12 2608.4H685M12 2623.6H685M12 2638.8H685M12 2653.9H685M12 2669.1H685M12 2684.2H685M12 2699.4H685M12 2714.6H685"/>

<!-- grey cells -->
<g class="shg" fill="#a9a9a9">
<rect x="354" y="2230.4" width="30" height="13.2"/><rect x="421" y="2230.4" width="30" height="13.2"/>
<rect x="388" y="2245.6" width="30" height="13.2"/>
<rect x="354" y="2260.7" width="30" height="13.2"/><rect x="388" y="2260.7" width="30" height="13.2"/><rect x="421" y="2260.7" width="30" height="13.2"/>
<rect x="354" y="2275.9" width="30" height="13.2"/><rect x="388" y="2275.9" width="30" height="13.2"/><rect x="421" y="2275.9" width="30" height="13.2"/>
<rect x="354" y="2291" width="30" height="13.2"/><rect x="388" y="2291" width="30" height="13.2"/><rect x="421" y="2291" width="30" height="13.2"/>
<rect x="354" y="2306.2" width="30" height="13.2"/><rect x="388" y="2306.2" width="30" height="13.2"/><rect x="421" y="2306.2" width="30" height="13.2"/>
<rect x="354" y="2321.4" width="30" height="13.2"/><rect x="388" y="2321.4" width="30" height="13.2"/><rect x="421" y="2321.4" width="30" height="13.2"/>
<rect x="354" y="2336.5" width="30" height="13.2"/><rect x="388" y="2336.5" width="30" height="13.2"/><rect x="421" y="2336.5" width="30" height="13.2"/>
<rect x="354" y="2351.7" width="30" height="13.2"/><rect x="388" y="2351.7" width="30" height="13.2"/><rect x="421" y="2351.7" width="30" height="13.2"/>
<rect x="354" y="2366.8" width="30" height="13.2"/><rect x="388" y="2366.8" width="30" height="13.2"/><rect x="421" y="2366.8" width="30" height="13.2"/>
<rect x="354" y="2382" width="30" height="13.2"/><rect x="388" y="2382" width="30" height="13.2"/><rect x="421" y="2382" width="30" height="13.2"/>
<rect x="354" y="2397.2" width="30" height="13.2"/><rect x="388" y="2397.2" width="30" height="13.2"/><rect x="421" y="2397.2" width="30" height="13.2"/>
<rect x="354" y="2412.3" width="30" height="13.2"/><rect x="388" y="2412.3" width="30" height="13.2"/><rect x="421" y="2412.3" width="30" height="13.2"/>
<rect x="354" y="2427.5" width="30" height="13.2"/><rect x="388" y="2427.5" width="30" height="13.2"/><rect x="421" y="2427.5" width="30" height="13.2"/>
<rect x="354" y="2442.6" width="30" height="13.2"/><rect x="388" y="2442.6" width="30" height="13.2"/><rect x="421" y="2442.6" width="30" height="13.2"/>
<rect x="354" y="2473" width="30" height="13.2"/><rect x="388" y="2473" width="30" height="13.2"/><rect x="421" y="2473" width="30" height="13.2"/>
<rect x="354" y="2488.1" width="30" height="13.2"/><rect x="388" y="2488.1" width="30" height="13.2"/><rect x="421" y="2488.1" width="30" height="13.2"/>
<rect x="354" y="2518.4" width="30" height="13.2"/><rect x="388" y="2518.4" width="30" height="13.2"/>
<rect x="421" y="2533.6" width="30" height="13.2"/>
<rect x="354" y="2563.9" width="30" height="13.2"/><rect x="388" y="2563.9" width="30" height="13.2"/>
<rect x="354" y="2579.1" width="30" height="13.2"/><rect x="388" y="2579.1" width="30" height="13.2"/>
<rect x="421" y="2594.2" width="30" height="13.2"/>
<rect x="354" y="2609.4" width="30" height="13.2"/><rect x="388" y="2609.4" width="30" height="13.2"/><rect x="421" y="2609.4" width="30" height="13.2"/>
<rect x="354" y="2624.6" width="30" height="13.2"/><rect x="388" y="2624.6" width="30" height="13.2"/><rect x="421" y="2624.6" width="30" height="13.2"/>
<rect x="354" y="2639.7" width="30" height="13.2"/><rect x="388" y="2639.7" width="30" height="13.2"/><rect x="421" y="2639.7" width="30" height="13.2"/>
<rect x="354" y="2654.9" width="30" height="13.2"/><rect x="388" y="2654.9" width="30" height="13.2"/><rect x="421" y="2654.9" width="30" height="13.2"/>
<rect x="354" y="2670" width="30" height="13.2"/><rect x="388" y="2670" width="30" height="13.2"/><rect x="421" y="2670" width="30" height="13.2"/>
<rect x="354" y="2685.2" width="30" height="13.2"/><rect x="388" y="2685.2" width="30" height="13.2"/><rect x="421" y="2685.2" width="30" height="13.2"/>
<rect x="354" y="2700.4" width="30" height="13.2"/><rect x="388" y="2700.4" width="30" height="13.2"/><rect x="421" y="2700.4" width="30" height="13.2"/>
</g>

<!-- table text -->
<g class="td">
<text x="13" y="2240.5" class="b">Measurement range</text><text x="183" y="2240.5">0.5 ... 155 m</text>
<text x="183" y="2255.7">0.5 ... 20 m, max. object temp. 1200 °C</text>
<text x="13" y="2270.8">Light spot diameter/distance</text><text x="183" y="2270.8">20 mm + (5 mm x distance in m)</text>
<text x="13" y="2286">Resolution</text><text x="183" y="2286">1 mm</text>
<text x="13" y="2301.1" class="b">Light source, light type</text><text x="183" y="2301.1">Laser diode, infrared light</text>
<text x="13" y="2316.3">Laser category</text><text x="183" y="2316.3">1 (EN 60825-1: Nov. 2001;</text>
<text x="183" y="2331.5">IEC 60825-1:AM2:2001)</text>
<text x="13" y="2346.6" class="b">Supply voltage V<tspan font-size="7" dy="2">S</tspan></text><text x="183" y="2346.6">18 ... 30 V DC <tspan font-size="7" dy="-3">1)</tspan></text>
<text x="13" y="2361.8">Residual ripple</text><text x="183" y="2361.8">&lt; 5 V<tspan font-size="7" dy="2">SS</tspan><tspan font-size="7" dy="-5">2)</tspan></text>
<text x="13" y="2376.9">Power consumption</text><text x="183" y="2376.9">≤ 6 W<tspan font-size="7" dy="-3">3)</tspan></text>
<text x="13" y="2392.1" class="b">Switching outputs Q<tspan font-size="7" dy="2">1</tspan><tspan dy="-2"> , Q</tspan><tspan font-size="7" dy="2">2</tspan><tspan dy="-2"> , Q</tspan><tspan font-size="7" dy="2">A</tspan></text>
<text x="13" y="2407.3">Input L+/Q , Q<tspan font-size="7" dy="2">A</tspan><tspan font-size="7" dy="-5">4) 5)</tspan></text><text x="183" y="2407.3">+5 V ... +30 V DC, supply outputs</text>
<text x="13" y="2422.4">Output current I<tspan font-size="7" dy="2">A</tspan><tspan dy="-2"> max.</tspan></text><text x="183" y="2422.4">100 mA</text>
<text x="13" y="2437.6">Analogue output</text><text x="183" y="2437.6">4 ... 20 mA, scalable</text>
<text x="13" y="2452.7" class="b">Serial interface</text><text x="183" y="2452.7">RS 422/RS 232 switchable</text>
<text x="13" y="2467.9" class="b">Measured value output</text>
<text x="48" y="2483.1">Mean value creation</text><text x="183" y="2483.1">1/16/64/256/1024 values</text>
<text x="48" y="2498.2">Output rate (min)</text><text x="183" y="2498.2">1 ms, 16 ms, 64 ms, 256 ms, 1024 ms</text>
<text x="13" y="2513.4" class="b">Response time</text>
<text x="183" y="2528.5">Max. 1024 ms</text>
<text x="183" y="2543.7">1 ms</text>
<text x="13" y="2558.9" class="b">Temperature drift</text>
<text x="19" y="2574">0 °C ... +40 °C</text><text x="183" y="2574">Typ. 0.3 mm/K</text>
<text x="19" y="2589.2">−10 °C ... 0 °C; +40 °C ... +55 °C</text><text x="183" y="2589.2">Typ. 0.6 mm/K</text>
<text x="19" y="2604.3">−10 °C ... +55 °C</text><text x="183" y="2604.3">Typ. 3.0 mm/K</text>
<text x="13" y="2619.5" class="b">Initialisation period</text><text x="183" y="2619.5">6 s</text>
<text x="13" y="2634.7" class="b">VDE protection class<tspan font-size="7" dy="-3">4)</tspan></text><text x="183" y="2634.7">III</text>
<text x="13" y="2649.8" class="b">Circuit protection<tspan font-size="7" dy="-3">5)</tspan></text><text x="183" y="2649.8">A, B</text>
<text x="13" y="2665" class="b">Enclosure rating</text><text x="183" y="2665">IP 65</text>
<text x="13" y="2680.1" class="b">Ambient temperature T<tspan font-size="7" dy="2">A</tspan></text><text x="183" y="2680.1">Operation – 10 °C ... + 55 °C</text>
<text x="183" y="2695.3">Storage    –25 °C ... + 70 °C</text>
<text x="13" y="2710.5" class="b">Weight</text><text x="183" y="2710.5">Approx. 1200 g</text>
</g>

<!-- footnotes -->
<g class="fn">
<text x="12" y="2731"><tspan font-size="6" dy="-2">1)</tspan><tspan dy="2"> Limit values</tspan></text>
<text x="12" y="2743"><tspan font-size="6" dy="-2">2)</tspan><tspan dy="2"> May not exceed or fall short of</tspan></text>
<text x="19" y="2753">V<tspan font-size="6" dy="1.5">S</tspan><tspan dy="-1.5"> tolerances</tspan></text>
<text x="12" y="2763"><tspan font-size="6" dy="-2">3)</tspan><tspan dy="2"> Without load</tspan></text>
<text x="183" y="2731"><tspan font-size="6" dy="-2">4)</tspan><tspan dy="2"> Reference voltage 50 V DC</tspan></text>
<text x="190" y="2743">PELV- voltage (EN 50178)</text>
<text x="183" y="2753"><tspan font-size="6" dy="-2">5)</tspan><tspan dy="2"> A = V</tspan><tspan font-size="6" dy="1.5">S</tspan><tspan dy="-1.5"> connections reverse-polarity</tspan></text>
<text x="207" y="2763">protected</text>
<text x="190" y="2774">B = Output Q short-circuit protected</text>
<text x="353" y="2731"><tspan font-size="6" dy="-2">6)</tspan><tspan dy="2"> Environmental conditions constant,</tspan></text>
<text x="361" y="2743">minimal switching period 30 min</text>
<text x="353" y="2753"><tspan font-size="6" dy="-2">7)</tspan><tspan dy="2"> 23 °C air temperature, 977 hPa, minimal</tspan></text>
<text x="361" y="2763">switching period 30 min</text>
<text x="520" y="2731"><tspan font-size="6" dy="-2">8)</tspan><tspan dy="2"> Accuracy may be reduced by factor 2.5</tspan></text>
<text x="528" y="2743">operating in +40 °C ... 55 °C</text>
</g>

<!-- ===== REPRODUCIBILITY ===== -->
<g class="sh">
<rect x="12" y="2842" width="418" height="13" fill="#e3e3e3"/>
<rect x="12" y="2857.5" width="224" height="13" fill="#fff"/>
<rect x="238" y="2857.5" width="192" height="13" fill="#cdcdcd"/>
<rect x="12" y="2873" width="224" height="13.5" fill="#fff"/>
<rect x="238" y="2873" width="36" height="13.5" fill="#e3e3e3"/><rect x="277" y="2873" width="36" height="13.5" fill="#e3e3e3"/>
<rect x="315" y="2873" width="36" height="13.5" fill="#e3e3e3"/><rect x="354" y="2873" width="36" height="13.5" fill="#e3e3e3"/>
<rect x="392" y="2873" width="38" height="13.5" fill="#e3e3e3"/>
</g>
<g class="sh">
<rect x="12" y="2903" width="224" height="13.5" fill="#fff"/><rect x="12" y="2918" width="224" height="13.5" fill="#fff"/><rect x="12" y="2933" width="224" height="13.5" fill="#fff"/>
<rect x="12" y="2964" width="224" height="13.5" fill="#fff"/><rect x="12" y="2979" width="224" height="13.5" fill="#fff"/><rect x="12" y="2994" width="224" height="13.5" fill="#fff"/>
<rect x="238" y="2903" width="36" height="13.5" fill="#e3e3e3"/><rect x="277" y="2903" width="36" height="13.5" fill="#e3e3e3"/><rect x="315" y="2903" width="36" height="13.5" fill="#e3e3e3"/><rect x="354" y="2903" width="36" height="13.5" fill="#e3e3e3"/><rect x="392" y="2903" width="38" height="13.5" fill="#e3e3e3"/>
<rect x="238" y="2918" width="36" height="13.5" fill="#e3e3e3"/><rect x="277" y="2918" width="36" height="13.5" fill="#e3e3e3"/><rect x="315" y="2918" width="36" height="13.5" fill="#e3e3e3"/><rect x="354" y="2918" width="36" height="13.5" fill="#e3e3e3"/><rect x="392" y="2918" width="38" height="13.5" fill="#e3e3e3"/>
<rect x="238" y="2933" width="36" height="13.5" fill="#e3e3e3"/><rect x="277" y="2933" width="36" height="13.5" fill="#e3e3e3"/><rect x="315" y="2933" width="36" height="13.5" fill="#e3e3e3"/><rect x="354" y="2933" width="36" height="13.5" fill="#e3e3e3"/><rect x="392" y="2933" width="38" height="13.5" fill="#e3e3e3"/>
<rect x="238" y="2964" width="36" height="13.5" fill="#e3e3e3"/><rect x="277" y="2964" width="36" height="13.5" fill="#e3e3e3"/><rect x="315" y="2964" width="36" height="13.5" fill="#e3e3e3"/><rect x="354" y="2964" width="36" height="13.5" fill="#e3e3e3"/><rect x="392" y="2964" width="38" height="13.5" fill="#e3e3e3"/>
<rect x="238" y="2979" width="36" height="13.5" fill="#e3e3e3"/><rect x="277" y="2979" width="36" height="13.5" fill="#e3e3e3"/><rect x="315" y="2979" width="36" height="13.5" fill="#e3e3e3"/><rect x="354" y="2979" width="36" height="13.5" fill="#e3e3e3"/><rect x="392" y="2979" width="38" height="13.5" fill="#e3e3e3"/>
<rect x="238" y="2994" width="36" height="13.5" fill="#e3e3e3"/><rect x="277" y="2994" width="36" height="13.5" fill="#e3e3e3"/><rect x="315" y="2994" width="36" height="13.5" fill="#e3e3e3"/><rect x="354" y="2994" width="36" height="13.5" fill="#e3e3e3"/><rect x="392" y="2994" width="38" height="13.5" fill="#e3e3e3"/>
</g>
<text x="16" y="2852.5" font-size="10.5" class="b" textLength="309" lengthAdjust="spacingAndGlyphs">Reproducibility and accuracy as a function of measurement distance</text>
<text x="326" y="2849" font-size="7" class="b">6) 7) 8)</text>
<g class="rp">
<text x="242" y="2868" class="b">DMT10-2</text>
<text x="12" y="2884" class="b">Measurement distance</text>
<text x="241" y="2884">1 m</text><text x="280" y="2884">15 m</text><text x="318" y="2884">40 m</text><text x="357" y="2884">65 m</text><text x="395" y="2884">155 m</text>
<text x="12" y="2899" class="b">Reproducibility<tspan font-size="7" dy="-3">6)</tspan></text>
<text x="12" y="2914">White, 90 % remission</text>
<text x="12" y="2929">Grey, 18 % remission</text>
<text x="12" y="2944">Black, 6 % remission</text>
<text x="12" y="2959" class="b">Accuracy<tspan font-size="7" dy="-3">7)</tspan></text>
<text x="12" y="2975">White, 90 % remission</text>
<text x="12" y="2990">Grey, 18 % remission</text>
<text x="12" y="3005">Black, 6 % remission</text>
<text x="241" y="2914">7 mm</text><text x="280" y="2914">7 mm</text><text x="318" y="2914">7 mm</text><text x="357" y="2914">7 mm</text><text x="395" y="2914">10 mm</text>
<text x="241" y="2929">7 mm</text><text x="280" y="2929">7 mm</text><text x="318" y="2929">7 mm</text><text x="357" y="2929">10 mm</text><text x="395" y="2929">–</text>
<text x="241" y="2944">7 mm</text><text x="280" y="2944">7 mm</text><text x="318" y="2944">10 mm</text><text x="357" y="2944">–</text><text x="395" y="2944">–</text>
<text x="240" y="2975">±10mm</text><text x="279" y="2975">±10mm</text><text x="317" y="2975">±10mm</text><text x="356" y="2975">±10mm</text><text x="394" y="2975">±10mm</text>
<text x="240" y="2990">±10mm</text><text x="279" y="2990">±10mm</text><text x="317" y="2990">±10mm</text><text x="356" y="2990">±10mm</text><text x="395" y="2990">–</text>
<text x="240" y="3005">±10mm</text><text x="279" y="3005">±10mm</text><text x="317" y="3005">±10mm</text><text x="357" y="3005">–</text><text x="395" y="3005">–</text>
</g>
<text x="12" y="3024" font-size="9.5" fill="#333" textLength="330" lengthAdjust="spacingAndGlyphs">Accuracy of DMT10-2-2111 may be reduced by factor 4 compared with DMT10-2-111x.</text>

<!-- order info -->
<g class="sh">
<rect x="444" y="2842" width="163" height="14" fill="#e3e3e3"/>
<rect x="444" y="2858" width="77" height="14" fill="#e3e3e3"/><rect x="529" y="2858" width="78" height="14" fill="#e3e3e3"/>
<rect x="444" y="2874" width="77" height="14" fill="#e3e3e3"/><rect x="529" y="2874" width="78" height="14" fill="#e3e3e3"/>
<rect x="444" y="2890" width="77" height="14" fill="#e3e3e3"/><rect x="529" y="2890" width="78" height="14" fill="#e3e3e3"/>
<rect x="444" y="2905" width="77" height="14" fill="#e3e3e3"/><rect x="529" y="2905" width="78" height="14" fill="#e3e3e3"/>
</g>
<text x="447" y="2853" font-size="10.5" class="b" textLength="149" lengthAdjust="spacingAndGlyphs">Order information RS 232/RS 422</text>
<g class="rp">
<text x="447" y="2869" class="b">Type</text><text x="532" y="2869" class="b">Order no.</text>
<text x="447" y="2885">DMT10-2-1111</text><text x="532" y="2885">1027603</text>
<text x="447" y="2901">DMT10-2-1113</text><text x="532" y="2901">1027605</text>
<text x="447" y="2916">DMT10-2-2111</text><text x="532" y="2916">1028540</text>
</g>
</svg>
</body></html>
